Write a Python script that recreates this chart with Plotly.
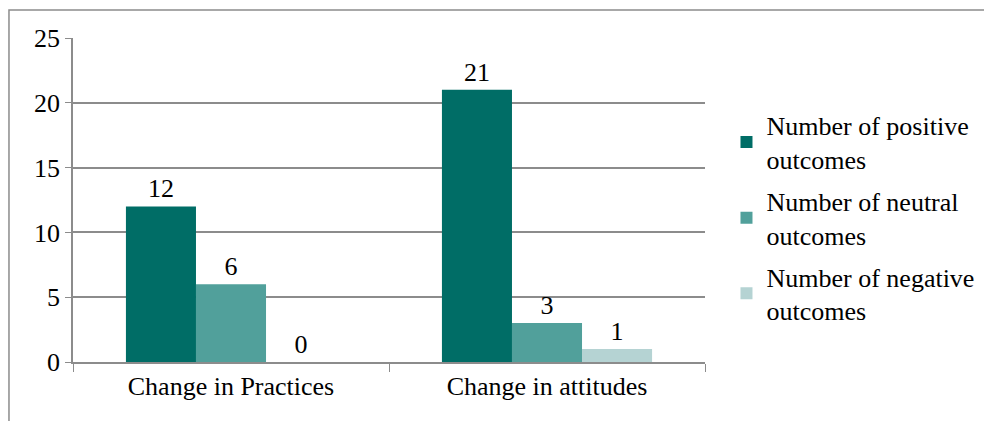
import plotly.graph_objects as go

categories = ["Change in Practices", "Change in attitudes"]
positive = [12, 21]
neutral = [6, 3]
negative = [0, 1]
series_names = [
    "Number of positive<br>outcomes",
    "Number of neutral<br>outcomes",
    "Number of negative<br>outcomes",
]
colors = ["#006d66", "#51a09b", "#b5d3d3"]

FONT = "Liberation Serif"
FS = 26

fig = go.Figure()
for i, (name, vals, color) in enumerate(zip(series_names, [positive, neutral, negative], colors)):
    fig.add_trace(
        go.Bar(
            x=categories,
            y=vals,
            name=name,
            legendgroup=f"g{i}",
            marker={"color": color, "line": {"width": 0}},
            text=[str(v) for v in vals],
            textposition="outside",
            textfont={"family": FONT, "size": FS, "color": "#000"},
            cliponaxis=False,
        )
    )

fig.update_layout(
    width=992,
    height=421,
    barmode="group",
    bargap=0.335,
    bargroupgap=0,
    plot_bgcolor="white",
    paper_bgcolor="white",
    margin={"l": 65, "r": 295, "t": 30, "b": 67},
    font={"family": FONT, "size": FS, "color": "#000"},
    showlegend=True,
    legend={
        "x": 1.034,
        "y": 0.445,
        "yanchor": "middle",
        "xanchor": "left",
        "font": {"family": FONT, "size": FS},
        "itemwidth": 30,
        "tracegroupgap": 5,
    },
    shapes=[
        {
            "type": "rect",
            "xref": "paper",
            "yref": "paper",
            "x0": -0.1013,
            "x1": 1.6,
            "y0": -0.4,
            "y1": 1.0864,
            "line": {"color": "#8c8c8c", "width": 1.5},
            "layer": "below",
        }
    ],
)
fig.update_yaxes(
    range=[0, 25],
    dtick=5,
    showgrid=True,
    gridcolor="#8c8c8c",
    gridwidth=1.5,
    showline=True,
    linecolor="#8c8c8c",
    linewidth=1.5,
    ticks="outside",
    ticklen=6,
    tickcolor="#8c8c8c",
    zeroline=False,
    tickfont={"family": FONT, "size": FS},
)
fig.update_xaxes(
    showline=True,
    linecolor="#8c8c8c",
    linewidth=1.5,
    ticks="outside",
    tickson="boundaries",
    ticklen=8,
    tickcolor="#8c8c8c",
    tickfont={"family": FONT, "size": FS},
)

fig.write_html("out.html")
